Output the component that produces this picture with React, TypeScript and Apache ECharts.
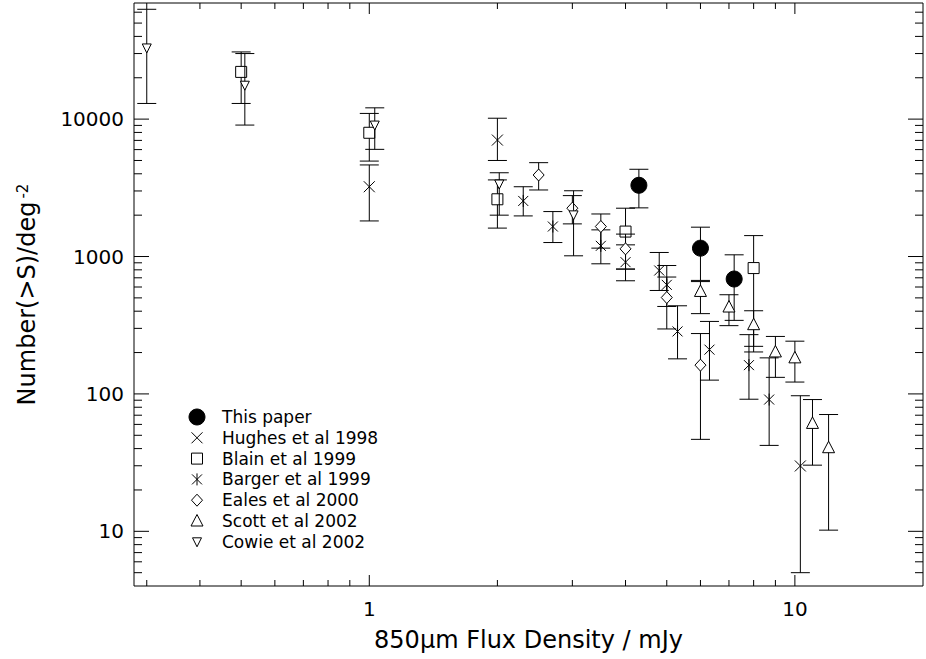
import React, { useEffect, useRef } from "react";
import * as echarts from "echarts";

// ---- axis extents and tick values ----
const X_MIN = 0.28;
const X_MAX = 20;
const Y_MIN = 4;
const Y_MAX = 70000;
const xMajorTicks = [1, 10];
const xMinorTicks = [0.3, 0.4, 0.5, 0.6, 0.7, 0.8, 0.9, 2, 3, 4, 5, 6, 7, 8, 9];
const yMajorTicks = [10, 100, 1000, 10000];
const yMinorTicks = [
  5, 6, 7, 8, 9, 20, 30, 40, 50, 60, 70, 80, 90, 200, 300, 400, 500, 600, 700, 800, 900,
  2000, 3000, 4000, 5000, 6000, 7000, 8000, 9000, 20000, 30000, 40000, 50000, 60000,
];

// ---- data: [flux mJy, N(>S), lower error end, upper error end] ----
const thisPaper = [
  [4.3, 3300, 2260, 4315],
  [6.0, 1150, 670, 1635],
  [7.2, 686, 343, 1029],
];
const hughes1998 = [
  [1.0, 3220, 1815, 4640],
  [2.0, 7040, 5000, 10150],
  [10.3, 29.9, 5.0, 97],
];
const blain1999 = [
  [0.5, 22060, 13000, 30830],
  [1.0, 7955, 4950, 11000],
  [2.0, 2610, 1610, 3610],
  [4.0, 1519, 810, 2247],
  [8.0, 824, 202, 1420],
];
const barger1999 = [
  [2.3, 2538, 1975, 3220],
  [2.7, 1653, 1264, 2124],
  [3.5, 1196, 885, 1563],
  [4.0, 910, 666, 1216],
  [4.8, 791, 566, 1070],
  [5.0, 622, 433, 860],
  [5.3, 285, 180, 438],
  [6.3, 210, 126, 337],
  [7.8, 162, 91.5, 270],
  [8.7, 91, 42.2, 183],
];
const eales2000 = [
  [2.5, 3920, 3050, 4820],
  [3.0, 2247, 1728, 2775],
  [3.5, 1653, 1151, 2040],
  [4.0, 1137, 810, 1456],
  [5.0, 503, 297, 709],
  [6.0, 162, 46.7, 275],
];
const scott2002 = [
  [6.0, 557, 384, 657],
  [7.0, 429, 314, 527],
  [8.0, 319, 222, 403],
  [9.0, 202, 132, 262],
  [10.0, 183, 122, 242],
  [11.0, 61, 30.3, 91],
  [12.0, 40.6, 10.2, 70.8],
];
const cowie2002 = [
  [0.3, 32960, 13000, 63000],
  [0.51, 17650, 9050, 30000],
  [1.03, 9050, 6025, 12080],
  [2.02, 3370, 2000, 4070],
  [3.02, 2010, 1012, 3010],
];

const legendNames = [
  "This paper",
  "Hughes et al 1998",
  "Blain et al 1999",
  "Barger et al 1999",
  "Eales et al 2000",
  "Scott et al 2002",
  "Cowie et al 2002",
];
const seriesData = [thisPaper, hughes1998, blain1999, barger1999, eales2000, scott2002, cowie2002];
const seriesShapes = ["circle", "cross", "square", "asterisk", "diamond", "triangle", "triangleDown"];

const FONT = "DejaVu Sans";
const INK = "#000";

function symbolElements(shape: string, cx: number, cy: number): any[] {
  const ls = { stroke: INK, lineWidth: 1, fill: "none" };
  const hollow = { stroke: INK, lineWidth: 1, fill: "#fff" };
  const ln = (x1: number, y1: number, x2: number, y2: number) => ({
    type: "line",
    shape: { x1, y1, x2, y2 },
    style: ls,
  });
  switch (shape) {
    case "circle":
      return [{ type: "circle", shape: { cx, cy, r: 8 }, style: { fill: INK, stroke: INK } }];
    case "cross":
      return [ln(cx - 5.5, cy - 5.5, cx + 5.5, cy + 5.5), ln(cx - 5.5, cy + 5.5, cx + 5.5, cy - 5.5)];
    case "square":
      return [{ type: "rect", shape: { x: cx - 5.5, y: cy - 5.5, width: 11, height: 11 }, style: hollow }];
    case "asterisk":
      return [
        ln(cx, cy - 6, cx, cy + 6),
        ln(cx - 5, cy - 5, cx + 5, cy + 5),
        ln(cx - 5, cy + 5, cx + 5, cy - 5),
      ];
    case "diamond":
      return [
        {
          type: "polygon",
          shape: { points: [[cx, cy - 6], [cx + 5.5, cy], [cx, cy + 6], [cx - 5.5, cy]] },
          style: hollow,
        },
      ];
    case "triangle":
      return [
        {
          type: "polygon",
          shape: { points: [[cx, cy - 6.5], [cx + 6, cy + 5], [cx - 6, cy + 5]] },
          style: hollow,
        },
      ];
    case "triangleDown":
      return [
        {
          type: "polygon",
          shape: { points: [[cx - 4.5, cy - 4], [cx + 4.5, cy - 4], [cx, cy + 5]] },
          style: hollow,
        },
      ];
  }
  return [];
}

function errorSeries(name: string, data: number[][], shape: string) {
  return {
    type: "custom",
    name,
    coordinateSystem: "cartesian2d",
    clip: false,
    encode: { x: 0, y: 1 },
    data,
    renderItem: (_params: any, api: any) => {
      const x = api.value(0);
      const p = api.coord([x, api.value(1)]);
      const pl = api.coord([x, api.value(2)]);
      const ph = api.coord([x, api.value(3)]);
      const cap = 9.5;
      const st = { stroke: INK, lineWidth: 1 };
      return {
        type: "group",
        children: [
          { type: "line", shape: { x1: p[0], y1: ph[1], x2: p[0], y2: pl[1] }, style: st },
          { type: "line", shape: { x1: p[0] - cap, y1: ph[1], x2: p[0] + cap, y2: ph[1] }, style: st },
          { type: "line", shape: { x1: p[0] - cap, y1: pl[1], x2: p[0] + cap, y2: pl[1] }, style: st },
          ...symbolElements(shape, p[0], p[1]),
        ],
      };
    },
  };
}

function xTickSeries(values: number[], len: number) {
  return {
    type: "custom",
    coordinateSystem: "cartesian2d",
    clip: false,
    silent: true,
    encode: { x: 0, y: 1 },
    data: values.map((v) => [v, Y_MIN]),
    renderItem: (_p: any, api: any) => {
      const x = api.value(0);
      const b = api.coord([x, Y_MIN]);
      const t = api.coord([x, Y_MAX]);
      const st = { stroke: INK, lineWidth: 1 };
      return {
        type: "group",
        children: [
          { type: "line", shape: { x1: b[0], y1: b[1], x2: b[0], y2: b[1] - len }, style: st },
          { type: "line", shape: { x1: t[0], y1: t[1], x2: t[0], y2: t[1] + len }, style: st },
        ],
      };
    },
  };
}

function yTickSeries(values: number[], len: number) {
  return {
    type: "custom",
    coordinateSystem: "cartesian2d",
    clip: false,
    silent: true,
    encode: { x: 0, y: 1 },
    data: values.map((v) => [X_MIN, v]),
    renderItem: (_p: any, api: any) => {
      const y = api.value(1);
      const l = api.coord([X_MIN, y]);
      const r = api.coord([X_MAX, y]);
      const st = { stroke: INK, lineWidth: 1 };
      return {
        type: "group",
        children: [
          { type: "line", shape: { x1: l[0], y1: l[1], x2: l[0] + len, y2: l[1] }, style: st },
          { type: "line", shape: { x1: r[0], y1: r[1], x2: r[0] - len, y2: r[1] }, style: st },
        ],
      };
    },
  };
}

const decadeLabel = (v: number) => {
  const l = Math.log10(v);
  return Math.abs(l - Math.round(l)) < 1e-6 ? String(Math.round(v)) : "";
};

export default function App() {
  const ref = useRef<HTMLDivElement>(null);
  useEffect(() => {
    if (!ref.current) return;
    const chart = echarts.init(ref.current, undefined, { renderer: "svg" });

    const legendX = 197;
    const legendTextX = 222;
    const legendY0 = 417;
    const legendStep = 20.8;
    const legendGraphics: any[] = [];
    legendNames.forEach((name, i) => {
      const cy = legendY0 + i * legendStep;
      legendGraphics.push(...symbolElements(seriesShapes[i], legendX, cy));
      legendGraphics.push({
        type: "text",
        x: legendTextX,
        y: cy,
        style: {
          text: name,
          fill: INK,
          font: `17px "${FONT}"`,
          textVerticalAlign: "middle",
          verticalAlign: "middle",
        },
      });
    });

    chart.setOption({
      animation: false,
      backgroundColor: "#fff",
      grid: {
        left: 134,
        top: 3,
        right: -5,
        bottom: 73,
        show: true,
        borderColor: INK,
        borderWidth: 1,
        backgroundColor: "transparent",
      },
      xAxis: {
        type: "log",
        logBase: 10,
        min: X_MIN,
        max: X_MAX,
        axisLine: { show: false },
        axisTick: { show: false },
        splitLine: { show: false },
        minorTick: { show: false },
        axisLabel: {
          formatter: decadeLabel,
          color: INK,
          fontFamily: FONT,
          fontSize: 20,
          margin: 13,
        },
        name: "850μm Flux Density / mJy",
        nameLocation: "middle",
        nameGap: 42,
        nameTextStyle: { color: INK, fontFamily: FONT, fontSize: 24 },
      },
      yAxis: {
        type: "log",
        logBase: 10,
        min: Y_MIN,
        max: Y_MAX,
        axisLine: { show: false },
        axisTick: { show: false },
        splitLine: { show: false },
        minorTick: { show: false },
        axisLabel: {
          formatter: decadeLabel,
          color: INK,
          fontFamily: FONT,
          fontSize: 20,
          margin: 10,
        },
        name: "Number(>S)/deg{sup|-2}",
        nameLocation: "middle",
        nameGap: 95,
        nameTextStyle: {
          color: INK,
          fontFamily: FONT,
          fontSize: 24,
          rich: {
            sup: { fontSize: 15, fontFamily: FONT, color: INK, verticalAlign: "top", lineHeight: 14, padding: [0, 0, 0, 3] },
          },
        },
      },
      series: [
        xTickSeries(xMajorTicks, 11),
        xTickSeries(xMinorTicks, 6),
        yTickSeries(yMajorTicks, 15),
        yTickSeries(yMinorTicks, 8),
        ...seriesData.map((d, i) => errorSeries(legendNames[i], d, seriesShapes[i])),
      ],
      graphic: legendGraphics,
    });

    return () => chart.dispose();
  }, []);

  return (
    <div
      ref={ref}
      style={{ position: "absolute", left: 0, top: 0, width: 926, height: 659 }}
    />
  );
}
